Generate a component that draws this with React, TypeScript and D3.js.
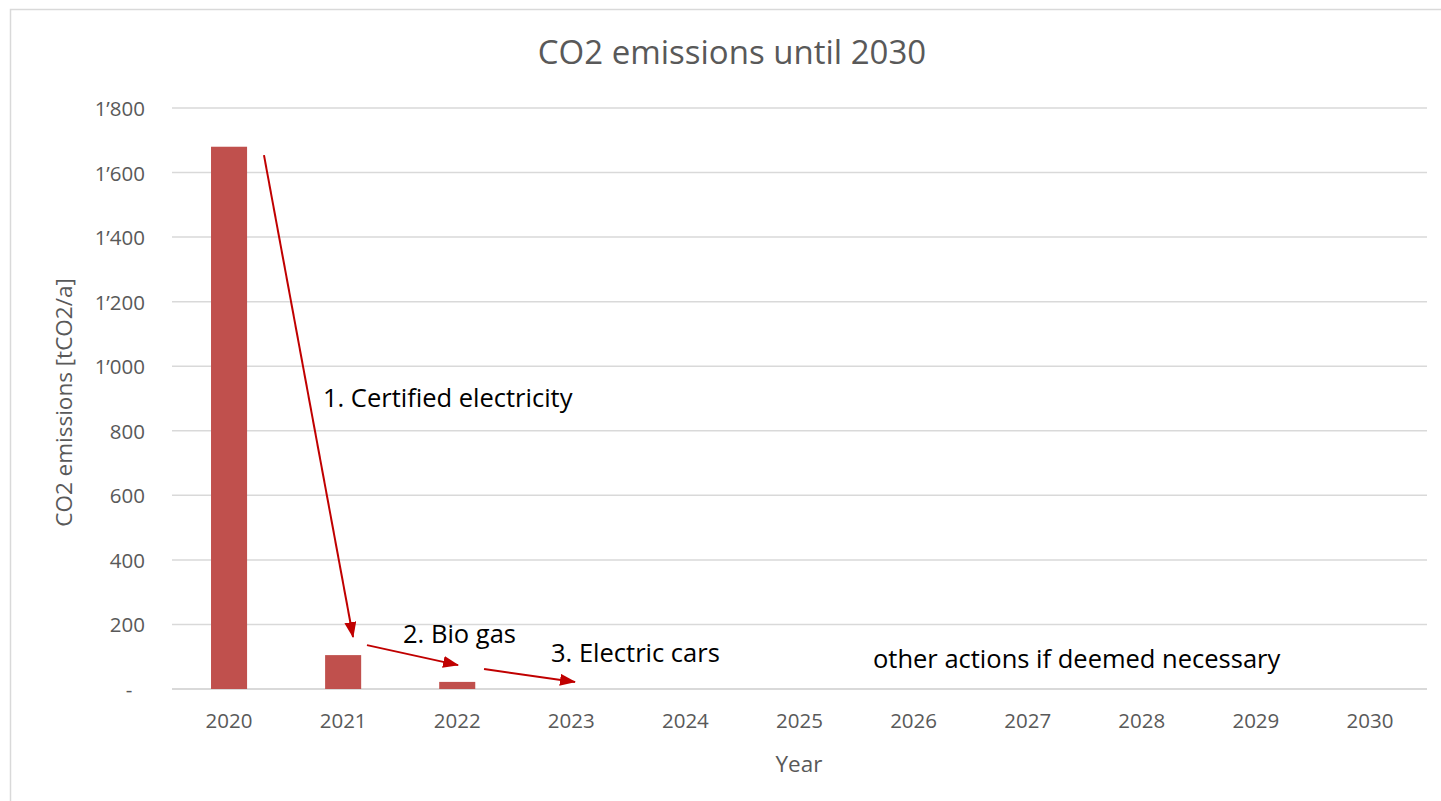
import React from 'react';
import * as d3 from 'd3';

const years = ['2020', '2021', '2022', '2023', '2024', '2025', '2026', '2027', '2028', '2029', '2030'];
const emissions = [1680, 105, 22, 0, 0, 0, 0, 0, 0, 0, 0];
const yTicks = [0, 200, 400, 600, 800, 1000, 1200, 1400, 1600, 1800];
const chartTitle = 'CO2 emissions until 2030';
const yAxisTitle = 'CO2 emissions [tCO2/a]';
const xAxisTitle = 'Year';

// Annotation arrows in data space (fractional year, value)
const arrowFromYear = [2020.306, 2021.209, 2022.235];
const arrowFromValue = [1654, 136, 62];
const arrowToYear = [2021.087, 2022.007, 2023.032];
const arrowToValue = [161, 74, 22];

const noteTexts = ['1. Certified electricity', '2. Bio gas', '3. Electric cars', 'other actions if deemed necessary'];
const noteYear = [2020.823, 2021.525, 2022.822, 2025.644];
const noteValue = [874, 143, 84, 65];

const W = 1441;
const H = 801;
const plotLeft = 172;
const plotRight = 1427;
const plotTop = 108;
const plotBottom = 689;
const FONT = "'Open Sans', 'Noto Sans', sans-serif";
const TEXT_GREY = '#595959';
const GRID = '#d9d9d9';
const BAR = '#c0504d';
const ARROW = '#c00000';

function fmt(v: number): string {
  if (v === 0) return '-';
  const s = String(v);
  if (s.length > 3) return s.slice(0, s.length - 3) + '\u2019' + s.slice(s.length - 3);
  return s;
}

export default function App() {
  const x = d3
    .scaleBand<string>()
    .domain(years)
    .range([plotLeft, plotRight])
    .paddingInner(0.684)
    .paddingOuter(0.342);
  const y = d3.scaleLinear().domain([0, 1800]).range([plotBottom, plotTop]);
  // continuous year scale (category centers at year values)
  const step = (plotRight - plotLeft) / years.length;
  const xYear = d3
    .scaleLinear()
    .domain([2020, 2030])
    .range([plotLeft + step / 2, plotRight - step / 2]);

  return (
    <svg
      width={W}
      height={H}
      style={{ position: 'absolute', left: 0, top: 0, background: '#fff' }}
      fontFamily={FONT}
    >
      <defs>
        <marker
          id="arrowhead"
          markerUnits="userSpaceOnUse"
          markerWidth={16}
          markerHeight={12}
          refX={15}
          refY={6}
          orient="auto"
        >
          <path d="M0,0 L16,6 L0,12 Z" fill={ARROW} />
        </marker>
      </defs>
      <rect x={0} y={0} width={W} height={H} fill="#fff" />
      {/* chart area border (left and top visible) */}
      <rect x={10.5} y={9.5} width={W + 20} height={H + 20} fill="none" stroke={GRID} strokeWidth={1.5} />

      <text x={732} y={64} textAnchor="middle" fontSize={33} fill={TEXT_GREY}>
        {chartTitle}
      </text>

      {/* gridlines */}
      {yTicks.map((t) => (
        <line
          key={'g' + t}
          x1={plotLeft}
          x2={plotRight}
          y1={y(t)}
          y2={y(t)}
          stroke={GRID}
          strokeWidth={t === 0 ? 2.2 : 1.5}
        />
      ))}

      {/* y tick labels */}
      {yTicks.map((t) => (
        <text
          key={'yl' + t}
          x={t === 0 ? 129 : 145}
          y={y(t)}
          textAnchor={t === 0 ? 'middle' : 'end'}
          dominantBaseline="central"
          fontSize={20.5}
          fill={TEXT_GREY}
        >
          {fmt(t)}
        </text>
      ))}

      {/* bars */}
      {years.map((yr, i) =>
        emissions[i] > 0 ? (
          <rect
            key={'b' + yr}
            x={x(yr)}
            y={y(emissions[i])}
            width={x.bandwidth()}
            height={y(0) - y(emissions[i])}
            fill={BAR}
          />
        ) : null
      )}

      {/* x tick labels */}
      {years.map((yr) => (
        <text
          key={'xl' + yr}
          x={(x(yr) as number) + x.bandwidth() / 2}
          y={728}
          textAnchor="middle"
          fontSize={20.5}
          fill={TEXT_GREY}
        >
          {yr}
        </text>
      ))}

      {/* axis titles */}
      <text x={799} y={772} textAnchor="middle" fontSize={22.5} fill={TEXT_GREY}>
        {xAxisTitle}
      </text>
      <text
        transform={`translate(63, ${(plotTop + plotBottom) / 2 + 4}) rotate(-90)`}
        textAnchor="middle"
        dominantBaseline="central"
        fontSize={22.5}
        fill={TEXT_GREY}
      >
        {yAxisTitle}
      </text>

      {/* arrows */}
      {arrowFromYear.map((fy, i) => (
        <line
          key={'a' + i}
          x1={xYear(fy)}
          y1={y(arrowFromValue[i])}
          x2={xYear(arrowToYear[i])}
          y2={y(arrowToValue[i])}
          stroke={ARROW}
          strokeWidth={2}
          markerEnd="url(#arrowhead)"
        />
      ))}

      {/* annotation texts */}
      {noteTexts.map((t, i) => (
        <text key={'n' + i} x={xYear(noteYear[i])} y={y(noteValue[i])} fontSize={25.5} fill="#000">
          {t}
        </text>
      ))}
    </svg>
  );
}
